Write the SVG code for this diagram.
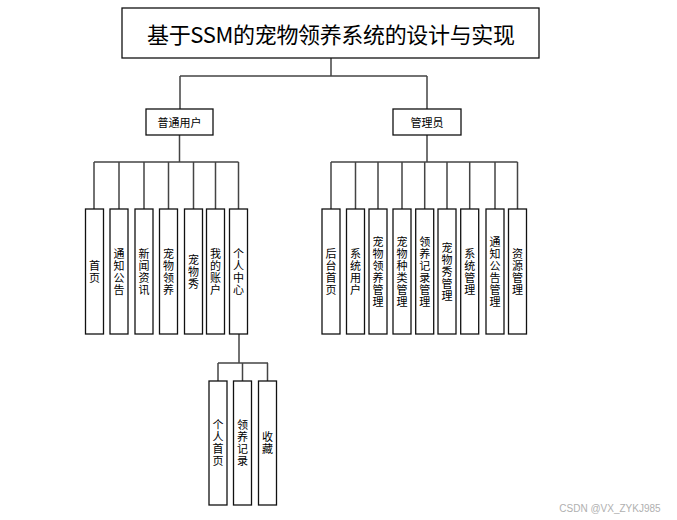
<svg xmlns="http://www.w3.org/2000/svg" width="677" height="520" viewBox="0 0 677 520">
<style>
.box{fill:#fff;stroke:#111;stroke-width:1.3}
.ln{stroke:#444;stroke-width:1.5;fill:none}
.t{font-family:"Noto Sans CJK SC","Microsoft YaHei",sans-serif;fill:#000;text-anchor:middle;dominant-baseline:central}
.v{font-family:"Noto Sans CJK SC","Microsoft YaHei",sans-serif;fill:#000;text-anchor:middle;font-size:11px;writing-mode:vertical-rl;letter-spacing:1px}
</style>
<rect width="677" height="520" fill="#fff"/>
<g id="connectors">
<path class="ln" d="M331,58V76M180,76H427M180,76V109M427,76V109"/>
<path class="ln" d="M179.5,135V162M94,162H238.5M94,162V209M119,162V209M144,162V209M168.5,162V209M193.5,162V209M215.5,162V209M238.5,162V209"/>
<path class="ln" d="M427,135V162M331,162H517.5M331,162V209M355.5,162V209M378,162V209M402,162V209M424.7,162V209M447,162V209M469.7,162V209M495,162V209M517.5,162V209"/>
<path class="ln" d="M239,334V363M218,363H268M218,363V381M242.5,363V381M267.5,363V381"/>
</g>
<g id="title"><rect class="box" x="122" y="8" width="417" height="50"/><text class="t" x="331" y="33" font-size="22" textLength="368">基于SSM的宠物领养系统的设计与实现</text></g>
<g id="user"><rect class="box" x="146" y="109" width="67" height="26"/><text class="t" x="179.5" y="122" font-size="11">普通用户</text></g>
<g id="admin"><rect class="box" x="393" y="109" width="68" height="26"/><text class="t" x="427" y="122" font-size="11">管理员</text></g>

<g id="u1"><rect class="box" x="85.5" y="209" width="18" height="125"/><text class="v" x="94.5" y="272">首页</text></g>
<g id="u2"><rect class="box" x="110" y="209" width="18" height="125"/><text class="v" x="119" y="272">通知公告</text></g>
<g id="u3"><rect class="box" x="135" y="209" width="18" height="125"/><text class="v" x="144" y="272">新闻资讯</text></g>
<g id="u4"><rect class="box" x="159.5" y="209" width="18" height="125"/><text class="v" x="168.5" y="272">宠物领养</text></g>
<g id="u5"><rect class="box" x="184.5" y="209" width="18" height="125"/><text class="v" x="193.5" y="272">宠物秀</text></g>
<g id="u6"><rect class="box" x="206.5" y="209" width="18" height="125"/><text class="v" x="215.5" y="272">我的账户</text></g>
<g id="u7"><rect class="box" x="229.5" y="209" width="18" height="125"/><text class="v" x="238.5" y="272">个人中心</text></g>

<g id="a1"><rect class="box" x="322" y="209" width="18" height="125"/><text class="v" x="331" y="272">后台首页</text></g>
<g id="a2"><rect class="box" x="346.5" y="209" width="18" height="125"/><text class="v" x="355.5" y="272">系统用户</text></g>
<g id="a3"><rect class="box" x="369" y="209" width="18" height="125"/><text class="v" x="378" y="272">宠物领养管理</text></g>
<g id="a4"><rect class="box" x="393" y="209" width="18" height="125"/><text class="v" x="402" y="272">宠物种类管理</text></g>
<g id="a5"><rect class="box" x="415.7" y="209" width="18" height="125"/><text class="v" x="424.7" y="272">领养记录管理</text></g>
<g id="a6"><rect class="box" x="438" y="209" width="18" height="125"/><text class="v" x="447" y="272">宠物秀管理</text></g>
<g id="a7"><rect class="box" x="460.7" y="209" width="18" height="125"/><text class="v" x="469.7" y="272">系统管理</text></g>
<g id="a8"><rect class="box" x="486" y="209" width="18" height="125"/><text class="v" x="495" y="272">通知公告管理</text></g>
<g id="a9"><rect class="box" x="508.5" y="209" width="18" height="125"/><text class="v" x="517.5" y="272">资源管理</text></g>

<g id="p1"><rect class="box" x="209" y="381" width="18" height="124"/><text class="v" x="218" y="443">个人首页</text></g>
<g id="p2"><rect class="box" x="233.5" y="381" width="18" height="124"/><text class="v" x="242.5" y="443">领养记录</text></g>
<g id="p3"><rect class="box" x="258.5" y="381" width="18" height="124"/><text class="v" x="267.5" y="443">收藏</text></g>

<text x="610" y="508" font-family="'Liberation Sans',sans-serif" font-size="10" fill="#b0b0b0" text-anchor="middle" dominant-baseline="central">CSDN @VX_ZYKJ985</text>
</svg>
